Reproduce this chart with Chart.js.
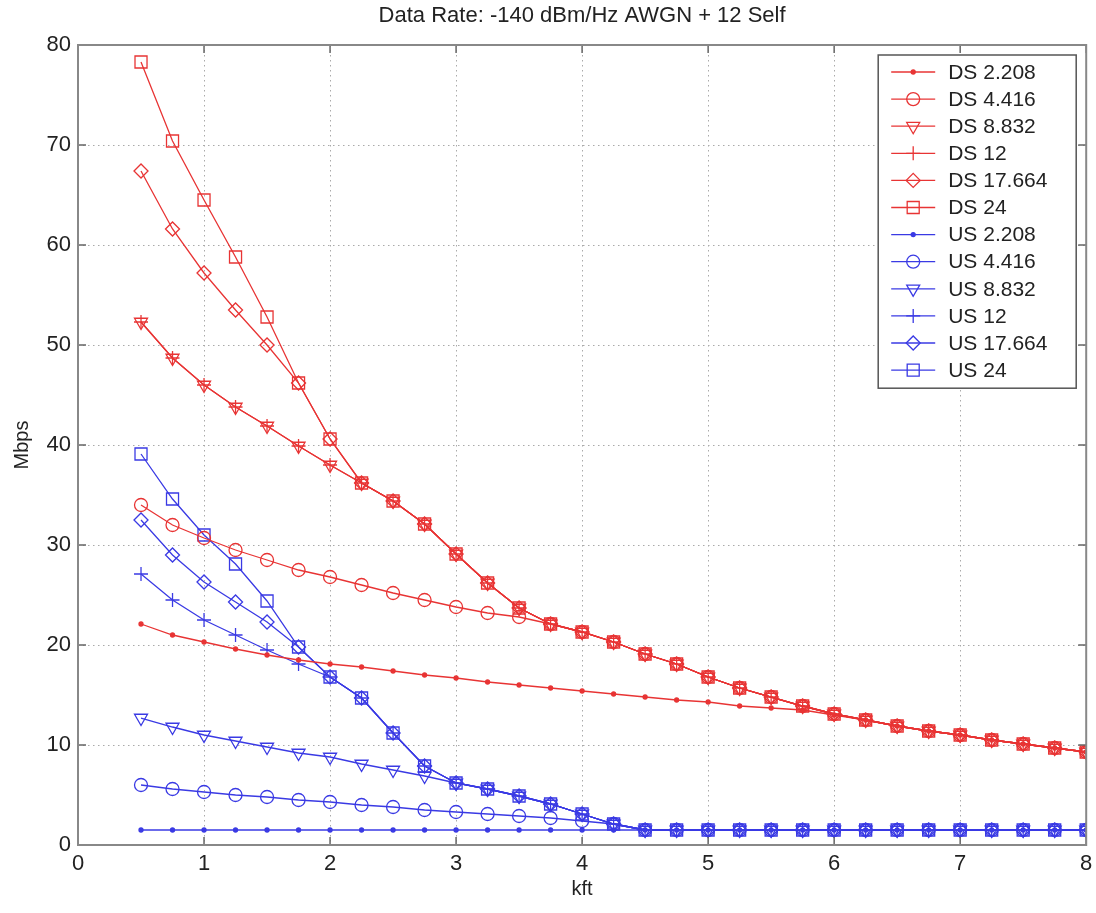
<!DOCTYPE html>
<html>
<head>
<meta charset="utf-8">
<script src="https://cdn.jsdelivr.net/npm/chart.js@4.4.1/dist/chart.umd.min.js"></script>
<style>
  body { margin: 0; background: #fff; }
  #wrap { width: 1096px; height: 913px; }
</style>
</head>
<body>
<div id="wrap"><canvas id="myChart" width="1096" height="913"></canvas></div>
<script>
// distance in kft
const xs = [0.5, 0.75, 1, 1.25, 1.5, 1.75, 2, 2.25, 2.5, 2.75, 3, 3.25, 3.5, 3.75, 4, 4.25,
            4.5, 4.75, 5, 5.25, 5.5, 5.75, 6, 6.25, 6.5, 6.75, 7, 7.25, 7.5, 7.75, 8];

// downstream rates, Mbps
const ds2208  = [22.1, 21.0, 20.3, 19.6, 19.0, 18.5, 18.1, 17.8, 17.4, 17.0, 16.7, 16.3, 16.0, 15.7, 15.4, 15.1,
                 14.8, 14.5, 14.3, 13.9, 13.7, 13.5, 13.0, 12.5, 11.9, 11.4, 11.0, 10.5, 10.1, 9.7, 9.3];
const ds4416  = [34.0, 32.0, 30.7, 29.5, 28.5, 27.5, 26.8, 26.0, 25.2, 24.5, 23.8, 23.2, 22.8, 22.1, 21.3, 20.3,
                 19.1, 18.1, 16.8, 15.7, 14.8, 13.9, 13.1, 12.5, 11.9, 11.4, 11.0, 10.5, 10.1, 9.7, 9.3];
const ds8832  = [52.3, 48.7, 46.0, 43.8, 41.9, 39.9, 38.0, 36.2, 34.4, 32.1, 29.1, 26.2, 23.7, 22.1, 21.3, 20.3,
                 19.1, 18.1, 16.8, 15.7, 14.8, 13.9, 13.1, 12.5, 11.9, 11.4, 11.0, 10.5, 10.1, 9.7, 9.3];
const ds12    = [52.3, 48.7, 46.0, 43.8, 41.9, 39.9, 38.0, 36.2, 34.4, 32.1, 29.1, 26.2, 23.7, 22.1, 21.3, 20.3,
                 19.1, 18.1, 16.8, 15.7, 14.8, 13.9, 13.1, 12.5, 11.9, 11.4, 11.0, 10.5, 10.1, 9.7, 9.3];
const ds17664 = [67.4, 61.6, 57.2, 53.5, 50.0, 46.2, 40.6, 36.2, 34.4, 32.1, 29.1, 26.2, 23.7, 22.1, 21.3, 20.3,
                 19.1, 18.1, 16.8, 15.7, 14.8, 13.9, 13.1, 12.5, 11.9, 11.4, 11.0, 10.5, 10.1, 9.7, 9.3];
const ds24    = [78.3, 70.4, 64.5, 58.8, 52.8, 46.2, 40.6, 36.2, 34.4, 32.1, 29.1, 26.2, 23.7, 22.1, 21.3, 20.3,
                 19.1, 18.1, 16.8, 15.7, 14.8, 13.9, 13.1, 12.5, 11.9, 11.4, 11.0, 10.5, 10.1, 9.7, 9.3];

// upstream rates, Mbps
const us2208  = [1.5, 1.5, 1.5, 1.5, 1.5, 1.5, 1.5, 1.5, 1.5, 1.5, 1.5, 1.5, 1.5, 1.5, 1.5, 1.5,
                 1.5, 1.5, 1.5, 1.5, 1.5, 1.5, 1.5, 1.5, 1.5, 1.5, 1.5, 1.5, 1.5, 1.5, 1.5];
const us4416  = [6.0, 5.6, 5.3, 5.0, 4.8, 4.5, 4.3, 4.0, 3.8, 3.5, 3.3, 3.1, 2.9, 2.7, 2.4, 2.1,
                 1.5, 1.5, 1.5, 1.5, 1.5, 1.5, 1.5, 1.5, 1.5, 1.5, 1.5, 1.5, 1.5, 1.5, 1.5];
const us8832  = [12.7, 11.8, 11.0, 10.4, 9.8, 9.2, 8.8, 8.1, 7.5, 6.9, 6.2, 5.6, 4.9, 4.1, 3.1, 2.1,
                 1.5, 1.5, 1.5, 1.5, 1.5, 1.5, 1.5, 1.5, 1.5, 1.5, 1.5, 1.5, 1.5, 1.5, 1.5];
const us12    = [27.1, 24.5, 22.5, 21.0, 19.5, 18.1, 16.8, 14.7, 11.2, 7.9, 6.2, 5.6, 4.9, 4.1, 3.1, 2.1,
                 1.5, 1.5, 1.5, 1.5, 1.5, 1.5, 1.5, 1.5, 1.5, 1.5, 1.5, 1.5, 1.5, 1.5, 1.5];
const us17664 = [32.5, 29.0, 26.3, 24.3, 22.3, 19.8, 16.8, 14.7, 11.2, 7.9, 6.2, 5.6, 4.9, 4.1, 3.1, 2.1,
                 1.5, 1.5, 1.5, 1.5, 1.5, 1.5, 1.5, 1.5, 1.5, 1.5, 1.5, 1.5, 1.5, 1.5, 1.5];
const us24    = [39.1, 34.6, 31.0, 28.1, 24.4, 19.8, 16.8, 14.7, 11.2, 7.9, 6.2, 5.6, 4.9, 4.1, 3.1, 2.1,
                 1.5, 1.5, 1.5, 1.5, 1.5, 1.5, 1.5, 1.5, 1.5, 1.5, 1.5, 1.5, 1.5, 1.5, 1.5];

const xTicks = [0, 1, 2, 3, 4, 5, 6, 7, 8];
const yTicks = [0, 10, 20, 30, 40, 50, 60, 70, 80];

const RED = 'rgb(232,52,52)';
const BLUE = 'rgb(58,58,228)';
const FONT = "'Liberation Sans', Arial, sans-serif";

// marker looks, MATLAB style: . o v + d s
const markers = {
  dot:     { pointStyle: 'circle',   radius: 2,   rotation: 0,   filled: true },
  circle:  { pointStyle: 'circle',   radius: 6.5, rotation: 0,   filled: false },
  tri:     { pointStyle: 'triangle', radius: 7.5, rotation: 180, filled: false },
  plus:    { pointStyle: 'cross',    radius: 7,   rotation: 0,   filled: false },
  diamond: { pointStyle: 'rectRot',  radius: 7,   rotation: 0,   filled: false },
  square:  { pointStyle: 'rect',     radius: 8.5, rotation: 0,   filled: false }
};

function makeSet(label, values, color, mk) {
  const m = markers[mk];
  return {
    label: label,
    data: xs.map((x, i) => ({ x: x, y: values[i] })),
    borderColor: color,
    borderWidth: 1.3,
    pointStyle: m.pointStyle,
    pointRadius: m.radius,
    pointRotation: m.rotation,
    pointBorderColor: color,
    pointBorderWidth: 1.3,
    pointBackgroundColor: m.filled ? color : 'rgba(0,0,0,0)',
    tension: 0,
    fill: false,
    mk: mk
  };
}

const datasets = [
  makeSet('DS 2.208', ds2208, RED, 'dot'),
  makeSet('DS 4.416', ds4416, RED, 'circle'),
  makeSet('DS 8.832', ds8832, RED, 'tri'),
  makeSet('DS 12', ds12, RED, 'plus'),
  makeSet('DS 17.664', ds17664, RED, 'diamond'),
  makeSet('DS 24', ds24, RED, 'square'),
  makeSet('US 2.208', us2208, BLUE, 'dot'),
  makeSet('US 4.416', us4416, BLUE, 'circle'),
  makeSet('US 8.832', us8832, BLUE, 'tri'),
  makeSet('US 12', us12, BLUE, 'plus'),
  makeSet('US 17.664', us17664, BLUE, 'diamond'),
  makeSet('US 24', us24, BLUE, 'square')
];

// title, box round the axes and inward ticks
const framePlugin = {
  id: 'frame',
  afterDatasetsDraw(chart) {
    const ctx = chart.ctx;
    const a = chart.chartArea;
    const sx = chart.scales.x, sy = chart.scales.y;
    ctx.save();
    ctx.strokeStyle = '#666';
    ctx.lineWidth = 1.5;
    xTicks.forEach(t => {
      const px = sx.getPixelForValue(t);
      ctx.beginPath();
      ctx.moveTo(px, a.bottom); ctx.lineTo(px, a.bottom - 8);
      ctx.moveTo(px, a.top); ctx.lineTo(px, a.top + 8);
      ctx.stroke();
    });
    yTicks.forEach(t => {
      const py = sy.getPixelForValue(t);
      ctx.beginPath();
      ctx.moveTo(a.left, py); ctx.lineTo(a.left + 8, py);
      ctx.moveTo(a.right, py); ctx.lineTo(a.right - 8, py);
      ctx.stroke();
    });
    ctx.strokeStyle = '#888';
    ctx.lineWidth = 2;
    ctx.strokeRect(a.left, a.top, a.right - a.left, a.bottom - a.top);

    ctx.fillStyle = '#222';
    ctx.font = '22px ' + FONT;
    ctx.textAlign = 'center';
    ctx.textBaseline = 'middle';
    ctx.fillText('Data Rate: -140 dBm/Hz AWGN + 12 Self', (a.left + a.right) / 2, 16);
    ctx.restore();
  }
};

// legend box inside the plot, top right
const legendPlugin = {
  id: 'boxLegend',
  afterDraw(chart) {
    const ctx = chart.ctx;
    const a = chart.chartArea;
    const w = 198, rowH = 27.1;
    const left = a.right - 10 - w, top = a.top + 10;
    const h = rowH * datasets.length + 8;
    ctx.save();
    ctx.fillStyle = '#fff';
    ctx.fillRect(left, top, w, h);
    ctx.strokeStyle = '#555';
    ctx.lineWidth = 1.5;
    ctx.strokeRect(left, top, w, h);
    chart.data.datasets.forEach((ds, i) => {
      const y = top + 17 + i * rowH;
      ctx.strokeStyle = ds.borderColor;
      ctx.lineWidth = 1.3;
      ctx.beginPath();
      ctx.moveTo(left + 13, y); ctx.lineTo(left + 57, y);
      ctx.stroke();
      const m = markers[ds.mk];
      ctx.fillStyle = m.filled ? ds.borderColor : 'rgba(0,0,0,0)';
      Chart.helpers.drawPoint(ctx, {
        pointStyle: m.pointStyle, radius: m.radius, rotation: m.rotation, borderWidth: 1.3
      }, left + 35, y);
      ctx.fillStyle = '#222';
      ctx.font = '21px ' + FONT;
      ctx.textAlign = 'left';
      ctx.textBaseline = 'middle';
      ctx.fillText(ds.label, left + 70, y + 1);
    });
    ctx.restore();
  }
};

const ctx = document.getElementById('myChart');

new Chart(ctx, {
  type: 'line',
  data: { datasets: datasets },
  options: {
    responsive: false,
    devicePixelRatio: 1,
    animation: false,
    layout: { padding: { left: 0, right: 2, top: 45, bottom: 0 } },
    plugins: {
      legend: { display: false },
      tooltip: { enabled: false }
    },
    scales: {
      x: {
        type: 'linear',
        min: 0, max: 8,
        afterFit: s => { s.height = 68; s.paddingLeft = 0; s.paddingRight = 0; },
        afterBuildTicks: s => { s.ticks = xTicks.map(v => ({ value: v })); },
        ticks: { color: '#222', font: { family: FONT, size: 22 }, padding: 6 },
        grid: { color: '#aaa', lineWidth: 1, drawTicks: false },
        border: { display: false, dash: [1.5, 3.5] },
        title: { display: true, text: 'kft', color: '#222', font: { family: FONT, size: 20 }, padding: { top: 0, bottom: 12 } }
      },
      y: {
        min: 0, max: 80,
        afterFit: s => { s.width = 78; s.paddingTop = 0; s.paddingBottom = 0; },
        afterBuildTicks: s => { s.ticks = yTicks.map(v => ({ value: v })); },
        ticks: { color: '#222', font: { family: FONT, size: 22 }, padding: 7 },
        grid: { color: '#aaa', lineWidth: 1, drawTicks: false },
        border: { display: false, dash: [1.5, 3.5] },
        title: { display: true, text: 'Mbps', color: '#222', font: { family: FONT, size: 20 }, padding: { top: 10, bottom: 0 } }
      }
    }
  },
  plugins: [framePlugin, legendPlugin]
});
</script>
</body>
</html>
